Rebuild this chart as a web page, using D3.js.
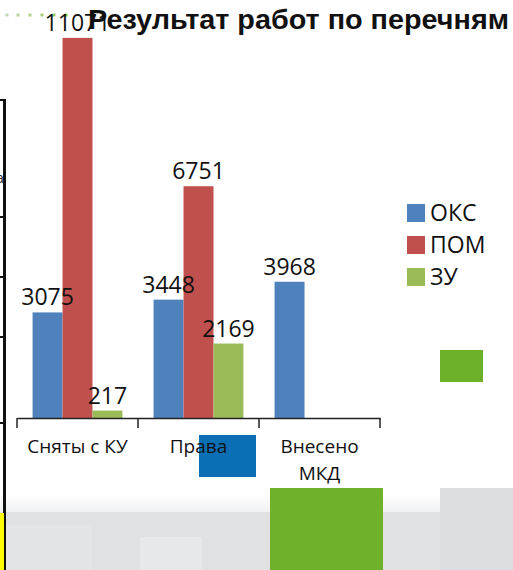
<!DOCTYPE html>
<html>
<head>
<meta charset="utf-8">
<script src="https://cdn.jsdelivr.net/npm/d3@7.9.0/dist/d3.min.js"></script>
<style>
  html, body { margin: 0; padding: 0; background: #fff; }
  svg { display: block; }
</style>
</head>
<body>
<svg id="chart" width="513" height="570"></svg>
<script>
const categories = ['Сняты с КУ', 'Права', 'Внесено МКД'];
const seriesNames = ['ОКС', 'ПОМ', 'ЗУ'];
const oksValues = [3075, 3448, 3968];
const pomValues = [11071, 6751, null];
const zuValues = [217, 2169, null];
const colors = ['#4f81bd', '#c0504d', '#9bbb59'];
const title = 'Результат работ по перечням';

const seriesValues = [oksValues, pomValues, zuValues];

const svg = d3.select('#chart');

// slide background pieces
const bg = svg.append('g');
const fade = svg.append('defs').append('linearGradient')
  .attr('id', 'fade').attr('x1', 0).attr('x2', 0).attr('y1', 0).attr('y2', 1);
fade.append('stop').attr('offset', 0).attr('stop-color', '#ffffff');
fade.append('stop').attr('offset', 1).attr('stop-color', '#f0f1f2');
bg.append('rect').attr('x', 0).attr('y', 494).attr('width', 513).attr('height', 18).attr('fill', 'url(#fade)');
bg.append('rect').attr('x', 0).attr('y', 512).attr('width', 513).attr('height', 58).attr('fill', '#dfe1e3');
bg.append('rect').attr('x', 440).attr('y', 488).attr('width', 73).attr('height', 82).attr('fill', '#dcdfe1');
bg.append('rect').attr('x', 6).attr('y', 525).attr('width', 86).attr('height', 45).attr('fill', '#e2e4e5');
bg.append('rect').attr('x', 140).attr('y', 537).attr('width', 62).attr('height', 33).attr('fill', '#e6e8e9');
bg.append('rect').attr('x', 270).attr('y', 488).attr('width', 113).attr('height', 82).attr('fill', '#70b12b');
bg.append('rect').attr('x', 199).attr('y', 435).attr('width', 57).attr('height', 42).attr('fill', '#0b6fb6');
bg.append('rect').attr('x', 440).attr('y', 350).attr('width', 43).attr('height', 32).attr('fill', '#6cb02a');

// dotted accent line
const dots = [7, 18, 30, 42, 54, 66];
const dotColors = ['#c9d8b4', '#bdd3a0', '#b3cf90', '#a7cb7c', '#98c565', '#8cc63f'];
bg.selectAll('.dot').data(dots).join('rect')
  .attr('x', (d) => d - 1.5).attr('y', 13.5).attr('width', 3).attr('height', 3)
  .attr('fill', (d, i) => dotColors[i]);

// clipped table edge on the left
const edge = svg.append('g');
edge.append('line').attr('x1', 4.5).attr('x2', 4.5).attr('y1', 99).attr('y2', 570)
  .attr('stroke', '#111').attr('stroke-width', 3);
[100, 217, 277, 337, 423].forEach((ty) => {
  edge.append('line').attr('x1', 0).attr('x2', 5).attr('y1', ty).attr('y2', ty)
    .attr('stroke', '#111').attr('stroke-width', 2);
});
edge.append('rect').attr('x', 0).attr('y', 513).attr('width', 4).attr('height', 57).attr('fill', '#ffff00');
edge.append('text').attr('x', -4).attr('y', 183).attr('font-family', 'Open Sans')
  .attr('font-size', 14).attr('fill', '#222').text('а');

// chart
const baseY = 418;
const x0 = d3.scaleBand().domain(categories).range([17, 380]).padding(0);
const x1 = d3.scaleBand().domain(seriesNames).range([0, x0.bandwidth()]).paddingInner(0).paddingOuter(0.52);
const y = d3.scaleLinear().domain([0, 12000]).range([baseY, 6]);

const data = [];
categories.forEach((c, ci) => {
  seriesNames.forEach((s, si) => {
    const v = seriesValues[si][ci];
    if (v != null) data.push({ category: c, series: s, value: v, color: colors[si] });
  });
});

const bars = svg.append('g');
bars.selectAll('rect').data(data).join('rect')
  .attr('x', (d) => x0(d.category) + x1(d.series))
  .attr('y', (d) => y(d.value))
  .attr('width', x1.bandwidth())
  .attr('height', (d) => baseY - y(d.value))
  .attr('fill', (d) => d.color);

// category axis
const axis = svg.append('g').attr('transform', `translate(0,${baseY})`)
  .call(d3.axisBottom(x0).tickSize(0).tickFormat(''));
axis.select('.domain').attr('stroke', '#222').attr('stroke-width', 1.5);
const bounds = categories.map((c) => x0(c)).concat([x0.range()[1]]);
axis.selectAll('.sep').data(bounds).join('line')
  .attr('x1', (d) => d).attr('x2', (d) => d).attr('y1', 0).attr('y2', 10)
  .attr('stroke', '#222').attr('stroke-width', 1.5);

const catLabels = svg.append('g')
  .attr('font-family', 'Open Sans').attr('font-size', 19).attr('fill', '#111')
  .attr('text-anchor', 'middle');
categories.forEach((c) => {
  const parts = c === 'Внесено МКД' ? ['Внесено', 'МКД'] : [c];
  parts.forEach((p, i) => {
    catLabels.append('text')
      .attr('x', x0(c) + x0.bandwidth() / 2)
      .attr('y', 453 + i * 27)
      .text(p);
  });
});

// value labels
svg.append('g')
  .attr('font-family', 'Open Sans').attr('font-size', 23).attr('fill', '#111')
  .attr('text-anchor', 'middle')
  .selectAll('text').data(data).join('text')
  .attr('x', (d) => x0(d.category) + x1(d.series) + x1.bandwidth() / 2)
  .attr('y', (d) => y(d.value) - 7)
  .text((d) => d.value);

// legend
const legend = svg.append('g').attr('transform', 'translate(407,204)');
seriesNames.forEach((s, i) => {
  const row = legend.append('g').attr('transform', `translate(0,${i * 32})`);
  row.append('rect').attr('width', 18).attr('height', 18).attr('fill', colors[i]);
  row.append('text').attr('x', 23).attr('y', 17)
    .attr('font-family', 'Open Sans').attr('font-size', 23).attr('fill', '#111')
    .text(s);
});

// title drawn last, over the clipped label
svg.append('text')
  .attr('x', 88).attr('y', 29)
  .attr('font-family', 'Liberation Sans, Arial, sans-serif')
  .attr('font-weight', 'bold').attr('font-size', 28).attr('fill', '#111')
  .attr('textLength', 421).attr('lengthAdjust', 'spacingAndGlyphs')
  .text(title);
</script>
</body>
</html>
